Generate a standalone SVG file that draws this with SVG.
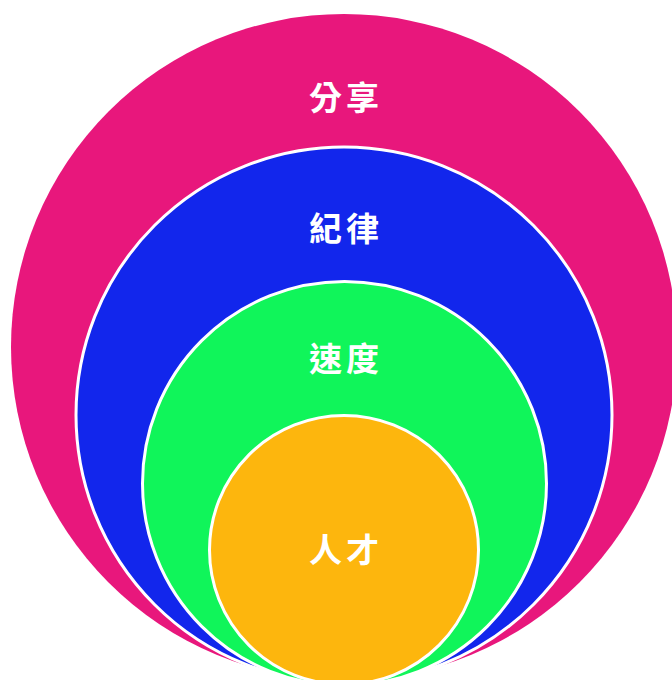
<svg xmlns="http://www.w3.org/2000/svg" width="672" height="680" viewBox="0 0 672 680">
<style>
.c{stroke:#ffffff;stroke-width:3}
.t{fill:#ffffff;font-family:"Noto Sans CJK TC","Noto Sans CJK SC",sans-serif;font-size:33px;font-weight:bold;text-anchor:middle;dominant-baseline:central;letter-spacing:4px}
</style>
<rect width="672" height="680" fill="#ffffff"/>
<g id="share">
<circle cx="344" cy="347" r="333" fill="#E8177C"/>
<text class="t" x="346" y="96">分享</text>
</g>
<g id="discipline">
<circle class="c" cx="344" cy="415" r="268" fill="#1226EC"/>
<text class="t" x="346" y="227">紀律</text>
</g>
<g id="speed">
<circle class="c" cx="344.5" cy="483.5" r="202" fill="#10F55A"/>
<text class="t" x="346" y="357">速度</text>
</g>
<g id="talent">
<circle class="c" cx="344" cy="550" r="134.5" fill="#FDB60D"/>
<text class="t" x="346" y="548">人才</text>
</g>
<g id="connectors"/>
</svg>
